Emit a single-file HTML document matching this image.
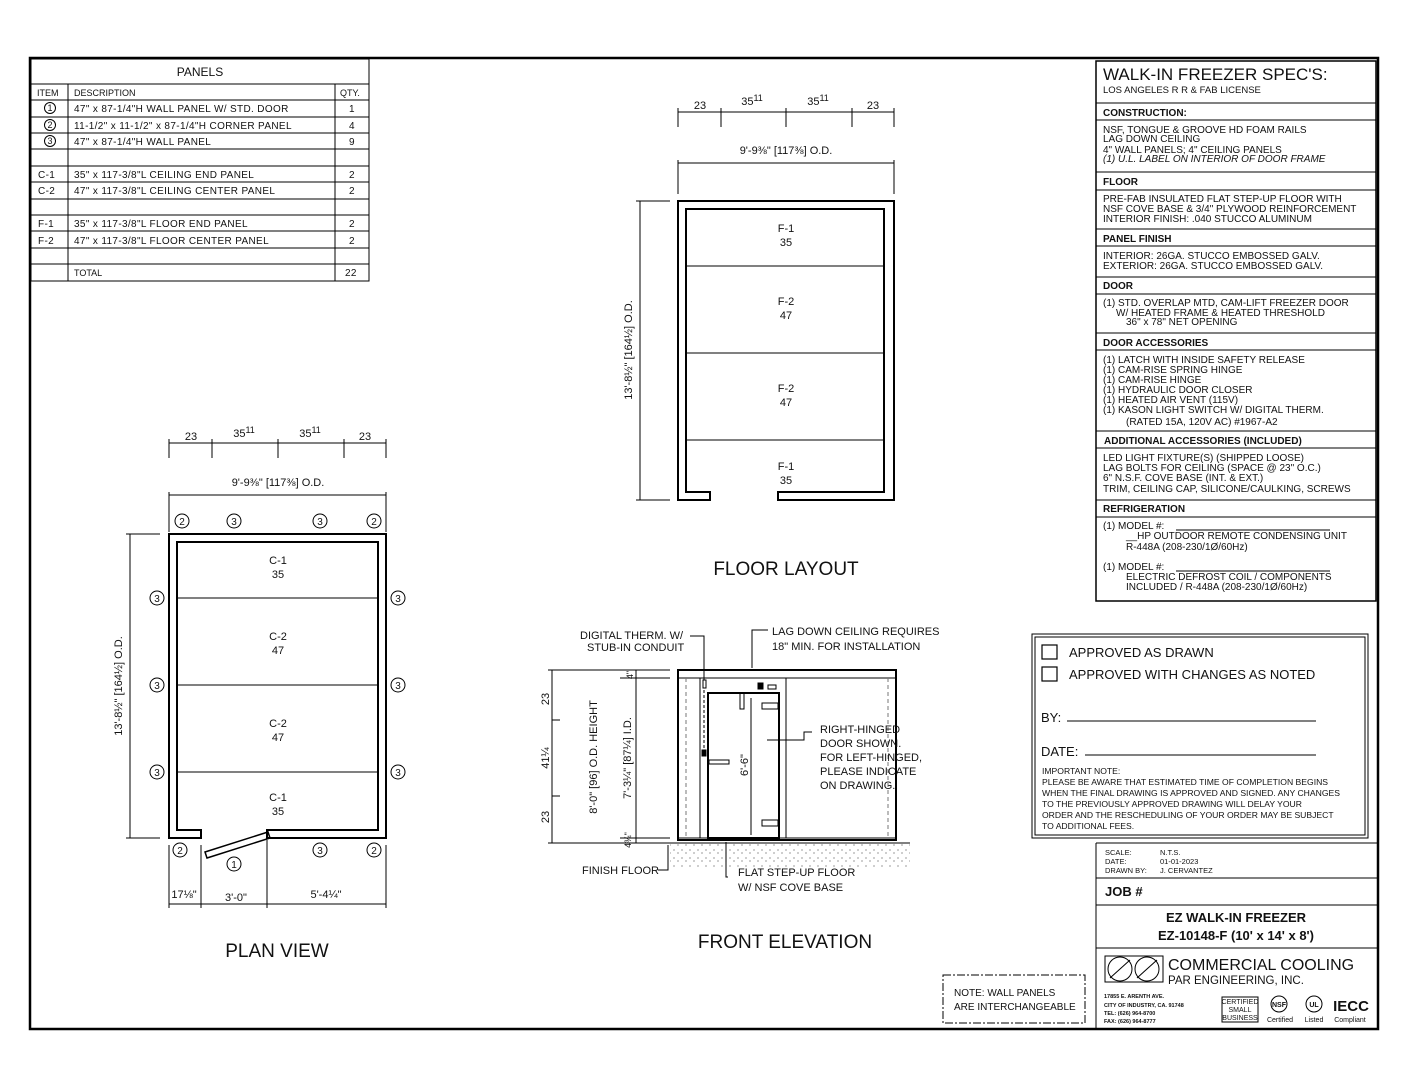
<!DOCTYPE html>
<html><head><meta charset="utf-8"><style>
html,body{margin:0;padding:0;background:#fff}
svg{display:block}
text{font-family:"Liberation Sans",sans-serif;fill:#111}
.t{font-size:10.5px}
.s{font-size:9px}
.d{font-size:10px;letter-spacing:0.35px}
.h{font-size:10px;font-weight:bold}
</style></head><body>
<svg width="1408" height="1088" viewBox="0 0 1408 1088" xmlns="http://www.w3.org/2000/svg">
<rect width="1408" height="1088" fill="#fff"/>
<rect x="30" y="58" width="1348" height="971" fill="none" stroke="#000" stroke-width="2.5"/>

<!-- PANELS TABLE -->
<g stroke="#000" fill="none" stroke-width="1">
<rect x="31" y="59" width="338" height="222"/>
<line x1="31" y1="84" x2="369" y2="84"/>
<line x1="31" y1="100" x2="369" y2="100"/>
<line x1="31" y1="117" x2="369" y2="117"/>
<line x1="31" y1="133" x2="369" y2="133"/>
<line x1="31" y1="149" x2="369" y2="149"/>
<line x1="31" y1="166" x2="369" y2="166"/>
<line x1="31" y1="182" x2="369" y2="182"/>
<line x1="31" y1="199" x2="369" y2="199"/>
<line x1="31" y1="215" x2="369" y2="215"/>
<line x1="31" y1="231" x2="369" y2="231"/>
<line x1="31" y1="248" x2="369" y2="248"/>
<line x1="31" y1="264" x2="369" y2="264"/>
<line x1="68" y1="84" x2="68" y2="281"/>
<line x1="335" y1="84" x2="335" y2="281"/>
<circle cx="50" cy="108" r="5.5"/><circle cx="50" cy="125" r="5.5"/><circle cx="50" cy="141" r="5.5"/>
</g>
<g class="t">
<text x="200" y="76" text-anchor="middle" style="font-size:12px">PANELS</text>
<text x="37" y="96" class="s">ITEM</text><text x="74" y="96" class="s">DESCRIPTION</text><text x="340" y="96" class="s">QTY.</text>
<text x="50" y="111" text-anchor="middle" class="s">1</text>
<text x="50" y="128" text-anchor="middle" class="s">2</text>
<text x="50" y="144" text-anchor="middle" class="s">3</text>
<text x="74" y="112" class="d">47" x 87-1/4"H WALL PANEL W/ STD. DOOR</text><text x="349" y="112" class="d">1</text>
<text x="74" y="129" class="d">11-1/2" x 11-1/2" x 87-1/4"H CORNER PANEL</text><text x="349" y="129" class="d">4</text>
<text x="74" y="145" class="d">47" x 87-1/4"H WALL PANEL</text><text x="349" y="145" class="d">9</text>
<text x="38" y="178" class="d">C-1</text><text x="74" y="178" class="d">35" x 117-3/8"L CEILING END PANEL</text><text x="349" y="178" class="d">2</text>
<text x="38" y="194" class="d">C-2</text><text x="74" y="194" class="d">47" x 117-3/8"L CEILING CENTER PANEL</text><text x="349" y="194" class="d">2</text>
<text x="38" y="227" class="d">F-1</text><text x="74" y="227" class="d">35" x 117-3/8"L FLOOR END PANEL</text><text x="349" y="227" class="d">2</text>
<text x="38" y="244" class="d">F-2</text><text x="74" y="244" class="d">47" x 117-3/8"L FLOOR CENTER PANEL</text><text x="349" y="244" class="d">2</text>
<text x="74" y="276" class="s">TOTAL</text><text x="345" y="276" class="d">22</text>
</g>

<!-- FLOOR LAYOUT -->
<g stroke="#000" fill="none" stroke-width="1">
<line x1="678" y1="112" x2="894" y2="112"/>
<line x1="678" y1="108" x2="678" y2="127"/><line x1="721" y1="108" x2="721" y2="127"/><line x1="786" y1="108" x2="786" y2="127"/><line x1="852" y1="108" x2="852" y2="127"/><line x1="894" y1="108" x2="894" y2="127"/>
<line x1="678" y1="163" x2="894" y2="163"/>
<line x1="678" y1="160" x2="678" y2="194"/><line x1="894" y1="160" x2="894" y2="194"/>
<line x1="640" y1="201" x2="640" y2="500"/>
<line x1="636" y1="201" x2="670" y2="201"/><line x1="636" y1="500" x2="670" y2="500"/>
<path d="M710 500 H678 V201 H894 V500 H778 V492 H884 V209 H686 V492 H710 Z" stroke-width="2"/>
<line x1="686" y1="266" x2="884" y2="266"/>
<line x1="686" y1="353" x2="884" y2="353"/>
<line x1="686" y1="440" x2="884" y2="440"/>
</g>
<g class="t" text-anchor="middle" style="font-size:11px">
<text x="700" y="109">23</text><text x="752" y="105">35<tspan style="font-size:9px" dy="-4">11</tspan></text><text x="818" y="105">35<tspan style="font-size:9px" dy="-4">11</tspan></text><text x="873" y="109">23</text>
<text x="786" y="154">9'-9⅜" [117⅜] O.D.</text>
<text x="786" y="232">F-1</text><text x="786" y="246">35</text>
<text x="786" y="305">F-2</text><text x="786" y="319">47</text>
<text x="786" y="392">F-2</text><text x="786" y="406">47</text>
<text x="786" y="470">F-1</text><text x="786" y="484">35</text>
<text transform="translate(632,350) rotate(-90)">13'-8½" [164½] O.D.</text>
<text x="786" y="575" style="font-size:19px">FLOOR LAYOUT</text>
</g>

<!-- PLAN VIEW -->
<g stroke="#000" fill="none" stroke-width="1">
<line x1="169" y1="443" x2="386" y2="443"/>
<line x1="169" y1="439" x2="169" y2="458"/><line x1="212" y1="439" x2="212" y2="458"/><line x1="278" y1="439" x2="278" y2="458"/><line x1="344" y1="439" x2="344" y2="458"/><line x1="386" y1="439" x2="386" y2="458"/>
<line x1="169" y1="495" x2="386" y2="495"/>
<line x1="169" y1="492" x2="169" y2="532"/><line x1="386" y1="492" x2="386" y2="532"/>
<line x1="130" y1="534" x2="130" y2="838"/>
<line x1="126" y1="534" x2="160" y2="534"/><line x1="126" y1="838" x2="160" y2="838"/>
<path d="M201 838 H169 V534 H386 V838 H267 V830 H378 V542 H177 V830 H201 Z" stroke-width="2"/>
<line x1="177" y1="598" x2="378" y2="598"/>
<line x1="177" y1="685" x2="378" y2="685"/>
<line x1="177" y1="772" x2="378" y2="772"/>
<path d="M205 852 L268 832 L270 838 L207 858 Z" stroke-width="1.5"/>
<line x1="169" y1="845" x2="169" y2="908"/><line x1="201" y1="845" x2="201" y2="908"/><line x1="267" y1="840" x2="267" y2="908"/><line x1="386" y1="845" x2="386" y2="908"/>
<line x1="169" y1="904" x2="386" y2="904"/>
<circle cx="182" cy="521" r="7"/><circle cx="234" cy="521" r="7"/><circle cx="320" cy="521" r="7"/><circle cx="374" cy="521" r="7"/>
<circle cx="157" cy="598" r="7"/><circle cx="157" cy="685" r="7"/><circle cx="157" cy="772" r="7"/>
<circle cx="398" cy="598" r="7"/><circle cx="398" cy="685" r="7"/><circle cx="398" cy="772" r="7"/>
<circle cx="180" cy="850" r="7"/><circle cx="234" cy="864" r="7"/><circle cx="320" cy="850" r="7"/><circle cx="374" cy="850" r="7"/>
</g>
<g class="t" text-anchor="middle" style="font-size:11px">
<text x="191" y="440">23</text><text x="244" y="437">35<tspan style="font-size:9px" dy="-4">11</tspan></text><text x="310" y="437">35<tspan style="font-size:9px" dy="-4">11</tspan></text><text x="365" y="440">23</text>
<text x="278" y="486">9'-9⅜" [117⅜] O.D.</text>
<g style="font-size:10px"><text x="182" y="525">2</text><text x="234" y="525">3</text><text x="320" y="525">3</text><text x="374" y="525">2</text>
<text x="157" y="602">3</text><text x="157" y="689">3</text><text x="157" y="776">3</text>
<text x="398" y="602">3</text><text x="398" y="689">3</text><text x="398" y="776">3</text>
<text x="180" y="854">2</text><text x="234" y="868">1</text><text x="320" y="854">3</text><text x="374" y="854">2</text></g>
<text x="278" y="564">C-1</text><text x="278" y="578">35</text>
<text x="278" y="640">C-2</text><text x="278" y="654">47</text>
<text x="278" y="727">C-2</text><text x="278" y="741">47</text>
<text x="278" y="801">C-1</text><text x="278" y="815">35</text>
<text transform="translate(122,686) rotate(-90)">13'-8½" [164½] O.D.</text>
<text x="184" y="898">17⅛"</text><text x="236" y="901">3'-0"</text><text x="326" y="898">5'-4¼"</text>
<text x="277" y="957" style="font-size:19px">PLAN VIEW</text>
</g>

<!-- FRONT ELEVATION -->
<defs><pattern id="dots" width="8" height="8" patternUnits="userSpaceOnUse"><circle cx="2" cy="2" r="0.6" fill="#555"/><circle cx="6" cy="5" r="0.6" fill="#555"/></pattern></defs>
<g stroke="#000" fill="none" stroke-width="1">
<rect x="670" y="843" width="240" height="24" stroke="none" fill="url(#dots)"/>
<rect x="678" y="670" width="218" height="170" stroke-width="2"/>
<line x1="678" y1="678" x2="896" y2="678"/>
<line x1="678" y1="838" x2="896" y2="838"/>
<line x1="686" y1="678" x2="686" y2="838" stroke-dasharray="4,3" stroke="#777"/>
<line x1="888" y1="678" x2="888" y2="838" stroke-dasharray="4,3" stroke="#777"/>
<line x1="700" y1="678" x2="700" y2="838"/>
<line x1="786" y1="678" x2="786" y2="838"/>
<rect x="708" y="693" width="71" height="145" stroke-width="2"/>
<line x1="751" y1="698" x2="751" y2="835"/>
<rect x="762" y="703" width="16" height="6"/><rect x="762" y="820" width="16" height="6"/>
<rect x="740" y="693" width="4" height="16"/><rect x="709" y="760" width="20" height="4"/>
<rect x="758" y="683" width="5" height="6" fill="#000"/><rect x="768" y="685" width="8" height="4"/>
<rect x="702" y="750" width="4" height="6" fill="#000"/>
<rect x="703" y="680" width="3" height="8"/>
<line x1="704" y1="690" x2="704" y2="750" stroke-dasharray="3,2"/>
<line x1="662" y1="843" x2="910" y2="843"/>
<line x1="552" y1="670" x2="552" y2="843"/><line x1="548" y1="670" x2="670" y2="670"/><line x1="548" y1="843" x2="670" y2="843"/>
<line x1="636" y1="670" x2="636" y2="843"/><line x1="620" y1="678" x2="670" y2="678"/><line x1="620" y1="838" x2="670" y2="838"/>
<line x1="552" y1="720" x2="560" y2="720"/>
<line x1="552" y1="796" x2="560" y2="796"/>
<polyline points="690,636 704,636 704,680"/>
<polyline points="768,630 752,630 752,668"/>
<polyline points="812,732 804,732 804,740 767,740"/>
<polyline points="658,870 668,870 668,845"/>
<polyline points="728,877 726,877 726,842"/>
</g>
<g class="t" style="font-size:11px">
<text x="580" y="639">DIGITAL THERM. W/</text><text x="587" y="651">STUB-IN CONDUIT</text>
<text x="772" y="635">LAG DOWN CEILING REQUIRES</text><text x="772" y="650">18" MIN. FOR INSTALLATION</text>
<text x="820" y="733">RIGHT-HINGED</text><text x="820" y="747">DOOR SHOWN.</text><text x="820" y="761">FOR LEFT-HINGED,</text><text x="820" y="775">PLEASE INDICATE</text><text x="820" y="789">ON DRAWING.</text>
<text x="582" y="874">FINISH FLOOR</text>
<text x="738" y="876">FLAT STEP-UP FLOOR</text><text x="738" y="891">W/ NSF COVE BASE</text>
<text transform="translate(549,699) rotate(-90)" text-anchor="middle">23</text>
<text transform="translate(549,758) rotate(-90)" text-anchor="middle">41¼</text>
<text transform="translate(549,817) rotate(-90)" text-anchor="middle">23</text>
<text transform="translate(597,757) rotate(-90)" text-anchor="middle">8'-0" [96] O.D. HEIGHT</text>
<text transform="translate(631,758) rotate(-90)" text-anchor="middle">7'-3¼" [87¼] I.D.</text>
<text transform="translate(633,675) rotate(-90)" text-anchor="middle" style="font-size:9px">4"</text>
<text transform="translate(631,840) rotate(-90)" text-anchor="middle" style="font-size:9px">4¾"</text>
<text transform="translate(748,765) rotate(-90)" text-anchor="middle">6'-6"</text>
<text x="785" y="948" text-anchor="middle" style="font-size:19px">FRONT ELEVATION</text>
</g>

<!-- note -->
<rect x="943" y="975" width="142" height="48" fill="none" stroke="#000" stroke-dasharray="8,2,2,2"/>
<text x="954" y="996" class="t" style="font-size:10px">NOTE: WALL PANELS</text>
<text x="954" y="1010" class="t" style="font-size:10px">ARE INTERCHANGEABLE</text>

<!-- SPEC BOX -->
<g stroke="#000" fill="none" stroke-width="1">
<rect x="1096" y="61" width="280" height="540" stroke-width="1.5"/>
<line x1="1096" y1="103" x2="1376" y2="103"/><line x1="1096" y1="120" x2="1376" y2="120"/>
<line x1="1096" y1="172" x2="1376" y2="172"/><line x1="1096" y1="190" x2="1376" y2="190"/>
<line x1="1096" y1="229" x2="1376" y2="229"/><line x1="1096" y1="246" x2="1376" y2="246"/>
<line x1="1096" y1="277" x2="1376" y2="277"/><line x1="1096" y1="294" x2="1376" y2="294"/>
<line x1="1096" y1="333" x2="1376" y2="333"/><line x1="1096" y1="350" x2="1376" y2="350"/>
<line x1="1096" y1="431" x2="1376" y2="431"/><line x1="1096" y1="448" x2="1376" y2="448"/>
<line x1="1096" y1="500" x2="1376" y2="500"/><line x1="1096" y1="517" x2="1376" y2="517"/>
</g>
<g class="t" style="font-size:10px">
<text x="1103" y="80" style="font-size:17px">WALK-IN FREEZER SPEC'S:</text>
<text x="1103" y="93" style="font-size:9.5px">LOS ANGELES R R &amp; FAB LICENSE</text>
<text x="1103" y="116" class="h">CONSTRUCTION:</text>
<text x="1103" y="133">NSF, TONGUE &amp; GROOVE HD FOAM RAILS</text>
<text x="1103" y="142">LAG DOWN CEILING</text>
<text x="1103" y="153">4" WALL PANELS; 4" CEILING PANELS</text>
<text x="1103" y="162" font-style="italic">(1) U.L. LABEL ON INTERIOR OF DOOR FRAME</text>
<text x="1103" y="185" class="h">FLOOR</text>
<text x="1103" y="202">PRE-FAB INSULATED FLAT STEP-UP FLOOR WITH</text>
<text x="1103" y="212">NSF COVE BASE &amp; 3/4" PLYWOOD REINFORCEMENT</text>
<text x="1103" y="222">INTERIOR FINISH: .040 STUCCO ALUMINUM</text>
<text x="1103" y="242" class="h">PANEL FINISH</text>
<text x="1103" y="259">INTERIOR: 26GA. STUCCO EMBOSSED GALV.</text>
<text x="1103" y="269">EXTERIOR: 26GA. STUCCO EMBOSSED GALV.</text>
<text x="1103" y="289" class="h">DOOR</text>
<text x="1103" y="306">(1) STD. OVERLAP MTD, CAM-LIFT FREEZER DOOR</text>
<text x="1116" y="316">W/ HEATED FRAME &amp; HEATED THRESHOLD</text>
<text x="1126" y="325">36" x 78" NET OPENING</text>
<text x="1103" y="346" class="h">DOOR ACCESSORIES</text>
<text x="1103" y="363">(1) LATCH WITH INSIDE SAFETY RELEASE</text>
<text x="1103" y="373">(1) CAM-RISE SPRING HINGE</text>
<text x="1103" y="383">(1) CAM-RISE HINGE</text>
<text x="1103" y="393">(1) HYDRAULIC DOOR CLOSER</text>
<text x="1103" y="403">(1) HEATED AIR VENT (115V)</text>
<text x="1103" y="413">(1) KASON LIGHT SWITCH W/ DIGITAL THERM.</text>
<text x="1126" y="425">(RATED 15A, 120V AC) #1967-A2</text>
<text x="1104" y="444" class="h">ADDITIONAL ACCESSORIES (INCLUDED)</text>
<text x="1103" y="461">LED LIGHT FIXTURE(S) (SHIPPED LOOSE)</text>
<text x="1103" y="471">LAG BOLTS FOR CEILING (SPACE @ 23" O.C.)</text>
<text x="1103" y="481">6" N.S.F. COVE BASE (INT. &amp; EXT.)</text>
<text x="1103" y="492">TRIM, CEILING CAP, SILICONE/CAULKING, SCREWS</text>
<text x="1103" y="512" class="h">REFRIGERATION</text>
<text x="1103" y="529">(1) MODEL #:</text><line x1="1176" y1="530" x2="1330" y2="530" stroke="#000"/>
<text x="1126" y="539">__HP OUTDOOR REMOTE CONDENSING UNIT</text>
<text x="1126" y="550">R-448A (208-230/1Ø/60Hz)</text>
<text x="1103" y="570">(1) MODEL #:</text><line x1="1176" y1="571" x2="1330" y2="571" stroke="#000"/>
<text x="1126" y="580">ELECTRIC DEFROST COIL / COMPONENTS</text>
<text x="1126" y="590">INCLUDED / R-448A (208-230/1Ø/60Hz)</text>
</g>

<!-- APPROVAL -->
<g stroke="#000" fill="none">
<rect x="1032" y="634" width="336" height="204" stroke-width="1"/>
<rect x="1035" y="637" width="330" height="198" stroke-width="1"/>
<rect x="1042" y="645" width="15" height="14" stroke-width="1.2"/>
<rect x="1042" y="667" width="15" height="14" stroke-width="1.2"/>
<line x1="1067" y1="721" x2="1316" y2="721"/>
<line x1="1085" y1="755" x2="1316" y2="755"/>
</g>
<g class="t">
<text x="1069" y="657" style="font-size:13px">APPROVED AS DRAWN</text>
<text x="1069" y="679" style="font-size:13px">APPROVED WITH CHANGES AS NOTED</text>
<text x="1041" y="722" style="font-size:13px">BY:</text>
<text x="1041" y="756" style="font-size:13px">DATE:</text>
<g style="font-size:8.6px"><text x="1042" y="774">IMPORTANT NOTE:</text>
<text x="1042" y="785">PLEASE BE AWARE THAT ESTIMATED TIME OF COMPLETION BEGINS</text>
<text x="1042" y="796">WHEN THE FINAL DRAWING IS APPROVED AND SIGNED. ANY CHANGES</text>
<text x="1042" y="807">TO THE PREVIOUSLY APPROVED DRAWING WILL DELAY YOUR</text>
<text x="1042" y="818">ORDER AND THE RESCHEDULING OF YOUR ORDER MAY BE SUBJECT</text>
<text x="1042" y="829">TO ADDITIONAL FEES.</text></g>
</g>

<!-- TITLE BLOCK -->
<g stroke="#000" fill="none" stroke-width="1">
<line x1="1096" y1="843" x2="1096" y2="1029"/>
<line x1="1096" y1="843" x2="1378" y2="843"/>
<line x1="1096" y1="878" x2="1378" y2="878"/>
<line x1="1096" y1="905" x2="1378" y2="905"/>
<line x1="1096" y1="948" x2="1378" y2="948"/>
<rect x="1105" y="956" width="58" height="26"/>
<circle cx="1120" cy="969" r="12"/><circle cx="1147" cy="969" r="12"/>
<line x1="1110" y1="978" x2="1130" y2="960"/><line x1="1137" y1="978" x2="1157" y2="960"/>
<rect x="1222" y="997" width="36" height="25"/>
<circle cx="1279" cy="1004" r="8"/><circle cx="1314" cy="1004" r="8"/>
</g>
<g class="t">
<g style="font-size:7.5px"><text x="1105" y="855">SCALE:</text><text x="1160" y="855">N.T.S.</text>
<text x="1105" y="864">DATE:</text><text x="1160" y="864">01-01-2023</text>
<text x="1105" y="873">DRAWN BY:</text><text x="1160" y="873">J. CERVANTEZ</text></g>
<text x="1105" y="896" style="font-size:13px;font-weight:bold">JOB #</text>
<text x="1236" y="922" text-anchor="middle" style="font-size:13px;font-weight:bold">EZ WALK-IN FREEZER</text>
<text x="1236" y="940" text-anchor="middle" style="font-size:13px;font-weight:bold">EZ-10148-F  (10' x 14' x 8')</text>
<text x="1168" y="970" style="font-size:16px">COMMERCIAL COOLING</text>
<text x="1168" y="984" style="font-size:11.5px">PAR ENGINEERING, INC.</text>
<g style="font-size:5.5px;font-weight:bold"><text x="1104" y="998">17855 E. ARENTH AVE.</text><text x="1104" y="1007">CITY OF INDUSTRY, CA. 91748</text><text x="1104" y="1015">TEL: (626) 964-8700</text><text x="1104" y="1023">FAX: (626) 964-8777</text></g>
<g style="font-size:7px" text-anchor="middle"><text x="1240" y="1004">CERTIFIED</text><text x="1240" y="1012">SMALL</text><text x="1240" y="1020">BUSINESS</text>
<text x="1279" y="1007" style="font-weight:bold">NSF</text><text x="1314" y="1007" style="font-weight:bold">UL</text>
<text x="1280" y="1022">Certified</text><text x="1314" y="1022">Listed</text><text x="1350" y="1022">Compliant</text>
<text x="1351" y="1011" style="font-size:15px;font-weight:bold">IECC</text></g>
</g>
</svg>
</body></html>
